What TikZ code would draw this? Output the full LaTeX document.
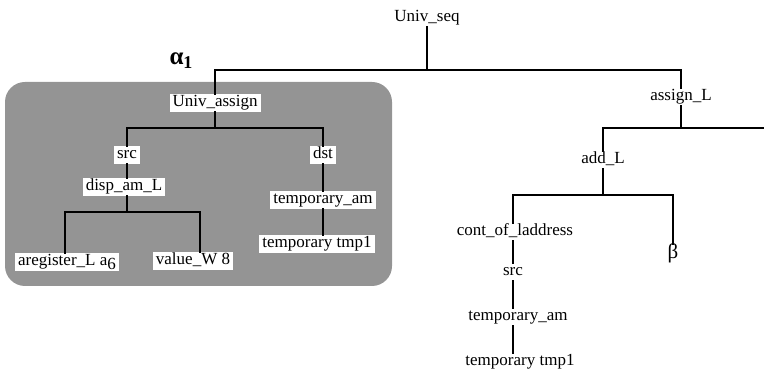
\documentclass[tikz,border=0pt]{standalone}
\usepackage{fontspec}
\setmainfont{Liberation Serif}
\definecolor{boxgray}{gray}{0.58}
\begin{document}
\begin{tikzpicture}[x=1pt,y=-1pt,
  lab/.style={font=\fontsize{17}{20}\selectfont, inner xsep=3pt, inner ysep=1.5pt, text height=11pt, text depth=3.5pt},
  wlab/.style={lab, fill=white},
  tree/.style={line width=2.8pt, line cap=rect}]
\useasboundingbox (0,0) rectangle (764,374);
\fill[boxgray, rounded corners=20pt] (5,82) rectangle (392,286);

% nodes
\node[lab] (useq) at (427,18) {Univ\_seq};
\node[wlab] (ua) at (215,103) {Univ\_assign};
\node[lab] (al) at (681,97) {assign\_L};
\node[lab] (add) at (603,160) {add\_L};
\node[lab] (col) at (515,232) {cont\_of\_laddress};
\node[lab, font=\fontsize{21}{24}\selectfont, text height=14pt, text depth=4pt] (beta) at (673,254) {β};
\node[lab] (src2) at (513,272) {src};
\node[lab] (tam2) at (518,317) {temporary\_am};
\node[lab] (tt2) at (520,362) {temporary tmp1};
\node[wlab] (src1) at (127,155) {src};
\node[wlab] (dst) at (323,155) {dst};
\node[wlab] (dam) at (124,187) {disp\_am\_L};
\node[wlab] (tam1) at (323,200) {temporary\_am};
\node[wlab] (tt1) at (317,244) {temporary tmp1};
\node[wlab] (areg) at (67,262) {aregister\_L a\raisebox{-4pt}{6}};
\node[wlab] (val) at (193,261) {value\_W 8};
\node[inner sep=0pt] (alpha) at (181,61) {{\fontsize{25}{25}\selectfont\bfseries α}\raisebox{-4pt}{\fontsize{18}{18}\selectfont\bfseries 1}};

% junctions
\coordinate (j0) at (427,70);
\coordinate (j1) at (215,128);
\coordinate (j2) at (127,212);
\coordinate (j3) at (681,128);
\coordinate (j4) at (603,195);
\coordinate (xa) at (65,0);
\coordinate (xv) at (200,0);
\coordinate (xr) at (513,0);
\coordinate (xd) at (323,0);
\coordinate (redge) at (766,128);

% connectors
\draw[tree] (useq.south) -- (j0);
\draw[tree] (ua.north) |- (j0) -| (al.north);
\draw[tree] (ua.south) -- (j1);
\draw[tree] (src1.north) |- (j1) -| (dst.north);
\draw[tree] (src1.south) -- (src1.south |- dam.north);
\draw[tree] (dam.south -| src1) -- (j2);
\draw[tree] (areg.north -| xa) |- (j2) -| (val.north -| xv);
\draw[tree] (dst.south) -- (tam1.north -| xd);
\draw[tree] (tam1.south -| xd) -- (tt1.north -| xd);
\draw[tree] (al.south) -- (j3);
\draw[tree] (add.north) |- (j3) -- (redge);
\draw[tree] (add.south) -- (j4);
\draw[tree] (col.north -| xr) |- (j4) -| (beta.north);
\draw[tree] (col.south -| xr) -- (src2.north -| xr);
\draw[tree] (src2.south -| xr) -- (tam2.north -| xr);
\draw[tree] (tam2.south -| xr) -- (tt2.north -| xr);
\end{tikzpicture}
\end{document}
